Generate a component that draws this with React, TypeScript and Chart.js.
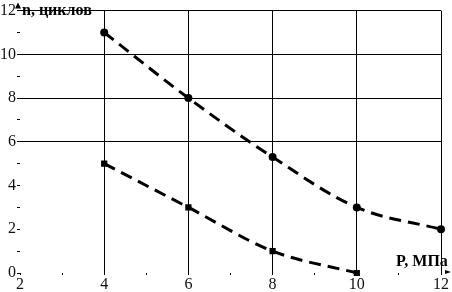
import React, { useEffect, useRef } from "react";
import { Chart, registerables } from "chart.js";

Chart.register(...registerables);

const pressureA = [4, 6, 8, 10, 12];
const cyclesA = [11, 8, 5.3, 3, 2];
const pressureB = [4, 6, 8, 10];
const cyclesB = [5, 3, 1, 0];
const xTickLabels = [2, 4, 6, 8, 10, 12];
const yTickLabels = [0, 2, 4, 6, 8, 10, 12];
const xGridValues = [4, 6, 8, 10, 12];
const yGridValues = [6, 8, 10, 12];
const yTitle = "n, циклов";
const xTitle = "P, МПа";

const FONT = '"Liberation Serif", "Times New Roman", serif';

const overlay = {
  id: "overlay",
  afterDraw(chart: any) {
    const ctx = chart.ctx;
    const area = chart.chartArea;
    ctx.save();
    ctx.fillStyle = "#000";
    ctx.font = "bold 16px " + FONT;
    ctx.textBaseline = "middle";
    ctx.textAlign = "left";
    ctx.fillText(yTitle, area.left + 2, area.top);
    ctx.fillText(xTitle, area.right - 45, area.bottom - 11);
    // up arrow
    ctx.beginPath();
    ctx.moveTo(area.left - 2, area.top - 8);
    ctx.lineTo(area.left - 5, area.top - 2);
    ctx.lineTo(area.left + 1, area.top - 2);
    ctx.closePath();
    ctx.fill();
    // right arrow
    ctx.beginPath();
    ctx.moveTo(area.right + 10, area.bottom - 1);
    ctx.lineTo(area.right + 4, area.bottom - 3);
    ctx.lineTo(area.right + 4, area.bottom + 1);
    ctx.closePath();
    ctx.fill();
    ctx.restore();
  },
};

export default function App() {
  const ref = useRef<HTMLCanvasElement>(null);
  useEffect(() => {
    const chart = new Chart(ref.current as HTMLCanvasElement, {
      type: "line",
      data: {
        datasets: [
          {
            data: pressureA.map((x, i) => ({ x, y: cyclesA[i] })),
            borderColor: "#000",
            backgroundColor: "#000",
            borderWidth: 3,
            borderDash: [12, 7],
            pointRadius: 3,
            pointBorderWidth: 2,
            pointStyle: "circle",
            cubicInterpolationMode: "monotone",
          },
          {
            data: pressureB.map((x, i) => ({ x, y: cyclesB[i] })),
            borderColor: "#000",
            backgroundColor: "#000",
            borderWidth: 3,
            borderDash: [12, 7],
            pointRadius: 3,
            pointBorderWidth: 2,
            pointStyle: "rect",
            cubicInterpolationMode: "monotone",
          },
        ],
      },
      options: {
        responsive: false,
        animation: false,
        clip: false,
        layout: { padding: { top: 9, right: 11, left: 0, bottom: 0 } },
        plugins: { legend: { display: false }, tooltip: { enabled: false } },
        scales: {
          x: {
            type: "linear",
            min: 2,
            max: 12,
            border: { display: false },
            afterFit: (s: any) => {
              s.height = 19;
            },
            ticks: {
              stepSize: 1,
              autoSkip: false,
              maxRotation: 0,
              padding: 0,
              color: "#111",
              font: { family: FONT, size: 16 },
              callback: (v: any) => (xTickLabels.includes(Number(v)) ? String(v) : ""),
            },
            grid: {
              lineWidth: 1,
              tickLength: 2,
              color: (c: any) => (xGridValues.includes(c.tick?.value) ? "#000" : "rgba(0,0,0,0)"),
              tickColor: "#000",
            },
          },
          y: {
            min: 0,
            max: 12,
            border: { display: false },
            afterFit: (s: any) => {
              s.width = 20;
            },
            ticks: {
              stepSize: 1,
              autoSkip: false,
              padding: 1,
              color: "#111",
              font: { family: FONT, size: 16 },
              callback: (v: any) => (yTickLabels.includes(Number(v)) ? String(v) : ""),
            },
            grid: {
              lineWidth: 1,
              tickLength: 3,
              color: (c: any) => (yGridValues.includes(c.tick?.value) ? "#000" : "rgba(0,0,0,0)"),
              tickColor: "#000",
            },
          },
        },
      },
      plugins: [overlay],
    } as any);
    return () => chart.destroy();
  }, []);
  return (
    <div style={{ position: "absolute", left: 0, top: 0, width: 452, height: 292 }}>
      <canvas ref={ref} width={452} height={292} />
    </div>
  );
}
